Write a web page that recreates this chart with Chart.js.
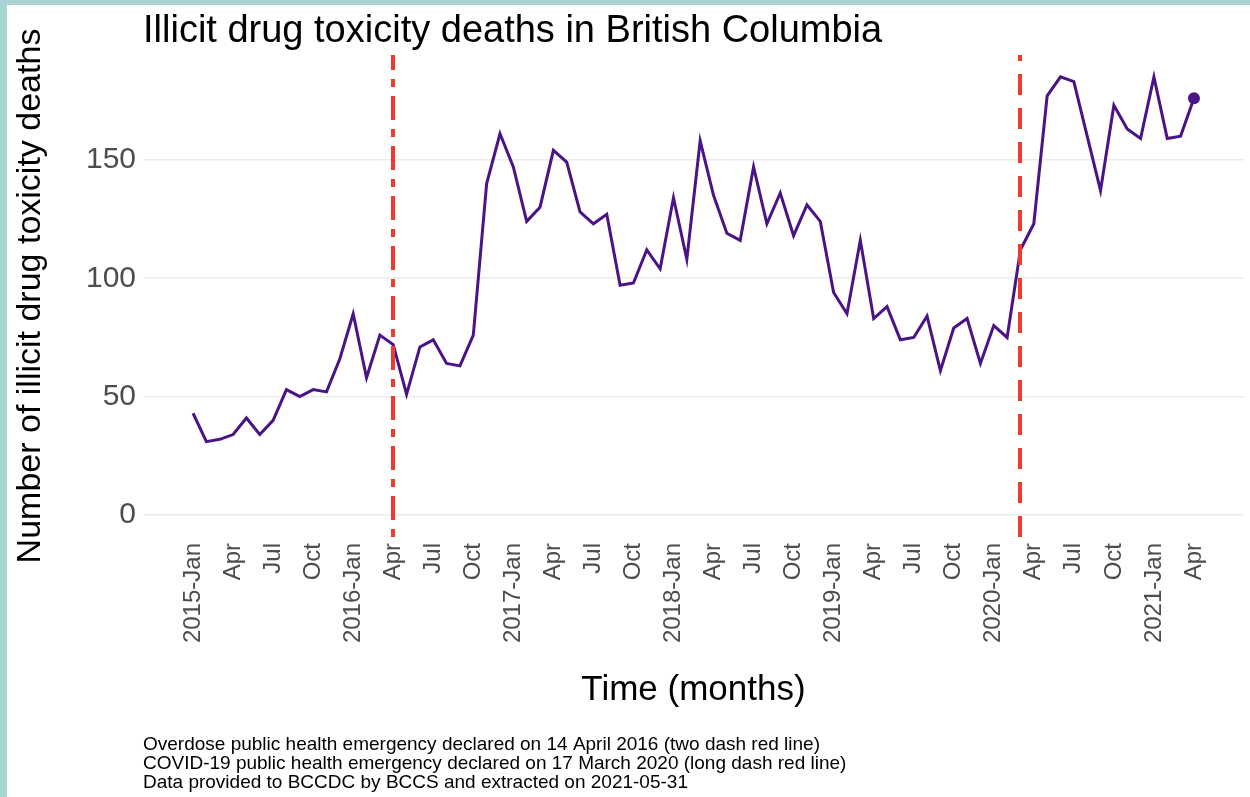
<!DOCTYPE html>
<html>
<head>
<meta charset="utf-8">
<title>Illicit drug toxicity deaths in British Columbia</title>
<script src="https://cdn.jsdelivr.net/npm/chart.js@4.4.1/dist/chart.umd.min.js"></script>
<style>
  body { margin: 0; background: #a9d4d4; width: 1250px; height: 797px; overflow: hidden; }
  #wrap { position: absolute; left: 7px; top: 5px; width: 1243px; height: 792px; background: #fff; }
</style>
</head>
<body>
<div id="wrap"><canvas id="deathsChart" width="1243" height="792"></canvas></div>
<script>
// monthly deaths, 2015-Jan .. 2021-Apr
let deaths = [
  43, 31, 32, 34, 41, 34, 40, 53, 50, 53, 52, 66,
  85, 58, 76, 72, 51, 71, 74, 64, 63, 76, 140, 161,
  147, 124, 130, 154, 149, 128, 123, 127, 97, 98, 112, 104,
  134, 108, 158, 135, 119, 116, 147, 123, 136, 118, 131, 124,
  94, 85, 116, 83, 88, 74, 75, 84, 61, 79, 83, 64,
  80, 75, 112, 123, 177, 185, 183, 160, 137, 173, 163, 159,
  185, 159, 160, 176
];

let tickLabels = [
  '2015-Jan', 'Apr', 'Jul', 'Oct',
  '2016-Jan', 'Apr', 'Jul', 'Oct',
  '2017-Jan', 'Apr', 'Jul', 'Oct',
  '2018-Jan', 'Apr', 'Jul', 'Oct',
  '2019-Jan', 'Apr', 'Jul', 'Oct',
  '2020-Jan', 'Apr', 'Jul', 'Oct',
  '2021-Jan', 'Apr'
];

let yTicks = [0, 50, 100, 150];

// month index of the two emergency declarations (Apr 2016, Mar 2020)
let emergencyIdx = [15, 62];
let emergencyDash = [[8, 9, 24, 9], [21, 13]];

let titleText = 'Illicit drug toxicity deaths in British Columbia';
let captionLines = [
  'Overdose public health emergency declared on 14 April 2016 (two dash red line)',
  'COVID-19 public health emergency declared on 17 March 2020 (long dash red line)',
  'Data provided to BCCDC by BCCS and extracted on 2021-05-31'
];

const FONT = "'Liberation Sans', Arial, sans-serif";
let lineColor = '#4a1486';
let redColor = '#ee3b2e';

let points = deaths.map((v, i) => ({ x: i, y: v }));
let lastIdx = deaths.length - 1;

const emergencyLines = {
  id: 'emergencyLines',
  afterDatasetsDraw(chart) {
    const { ctx, chartArea, scales: { x } } = chart;
    ctx.save();
    ctx.strokeStyle = redColor;
    ctx.lineWidth = 4;
    emergencyIdx.forEach((idx, i) => {
      const px = Math.round(x.getPixelForValue(idx));
      ctx.setLineDash(emergencyDash[i]);
      ctx.beginPath();
      ctx.moveTo(px, chartArea.bottom);
      ctx.lineTo(px, chartArea.top);
      ctx.stroke();
    });
    ctx.restore();
  }
};

const textBits = {
  id: 'textBits',
  afterDraw(chart) {
    const { ctx, chartArea } = chart;
    ctx.save();
    ctx.fillStyle = '#000';
    ctx.textAlign = 'left';
    ctx.textBaseline = 'alphabetic';
    ctx.font = '38px ' + FONT;
    ctx.fillText(titleText, chartArea.left, 37);
    ctx.font = '19px ' + FONT;
    captionLines.forEach((t, i) => ctx.fillText(t, chartArea.left, 745 + i * 19));
    ctx.restore();
  }
};

let ctx = document.getElementById('deathsChart').getContext('2d');
let deathsChart = new Chart(ctx, {
  type: 'line',
  data: {
    datasets: [{
      data: points,
      borderColor: lineColor,
      backgroundColor: lineColor,
      borderWidth: 3,
      tension: 0,
      pointRadius: c => c.dataIndex === lastIdx ? 6 : 0,
      pointHoverRadius: 0,
      pointBorderWidth: 0
    }]
  },
  options: {
    responsive: false,
    animation: false,
    devicePixelRatio: 1,
    layout: { padding: { left: 0, right: 4, top: 50, bottom: 80 } },
    plugins: {
      legend: { display: false },
      tooltip: { enabled: false }
    },
    scales: {
      x: {
        type: 'linear',
        min: -3.75,
        max: 78.75,
        afterBuildTicks: s => { s.ticks = tickLabels.map((_, i) => ({ value: i * 3 })); },
        afterFit: s => { s.height = 180; },
        grid: { display: false, drawTicks: false },
        border: { display: false },
        ticks: {
          autoSkip: false,
          minRotation: 90,
          maxRotation: 90,
          padding: 6,
          color: '#4d4d4d',
          font: { family: FONT, size: 24 },
          callback: (v, i) => tickLabels[i]
        },
        title: {
          display: true,
          text: 'Time (months)',
          color: '#000',
          font: { family: FONT, size: 35 },
          padding: { top: 0, bottom: 6 }
        }
      },
      y: {
        min: -9.25,
        max: 194.25,
        afterBuildTicks: s => { s.ticks = yTicks.map(v => ({ value: v })); },
        afterFit: s => { s.width = 136; },
        grid: { color: '#ebebeb', lineWidth: 1.5, drawTicks: false },
        border: { display: false },
        ticks: {
          padding: 7,
          color: '#4d4d4d',
          font: { family: FONT, size: 30 }
        },
        title: {
          display: true,
          text: 'Number of illicit drug toxicity deaths',
          color: '#000',
          font: { family: FONT, size: 34 },
          padding: { top: 3, bottom: 0 }
        }
      }
    }
  },
  plugins: [emergencyLines, textBits]
});
</script>
</body>
</html>
